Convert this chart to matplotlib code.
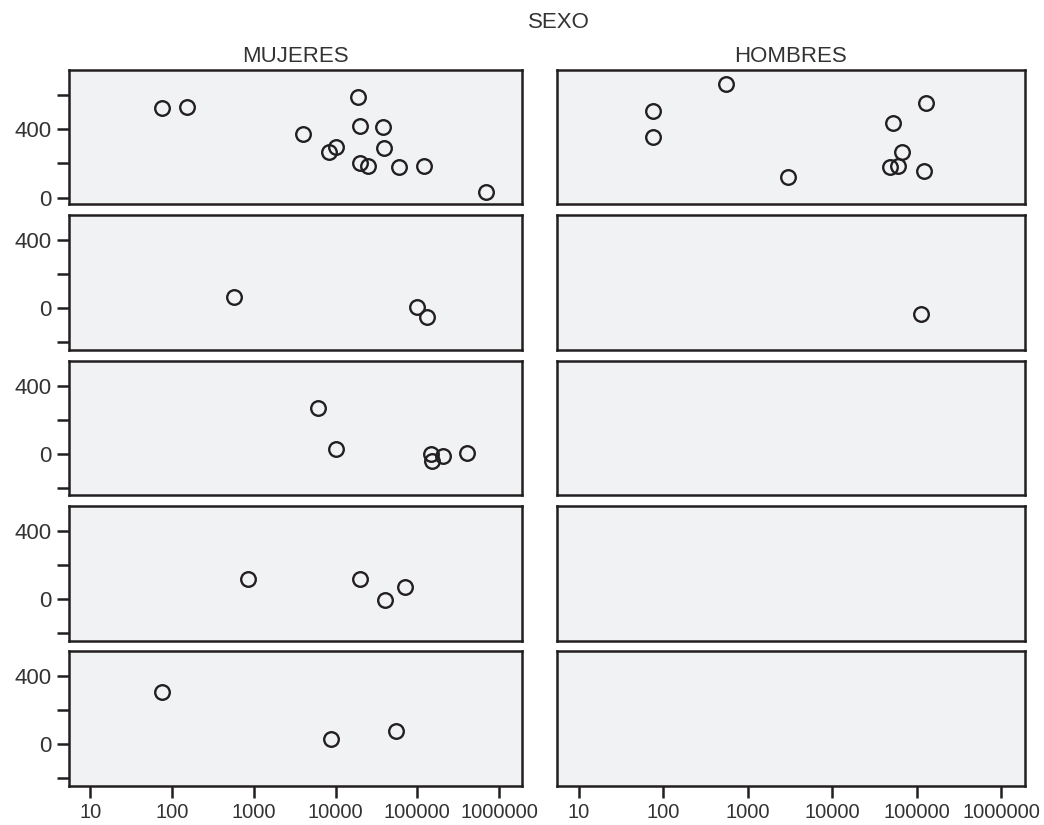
import matplotlib
matplotlib.use("Agg")
import matplotlib.pyplot as plt
import numpy as np

plt.rcParams['font.family'] = ['Liberation Sans', 'DejaVu Sans']

# values: (x, y) per panel, rows top to bottom
mujeres_x = [
    [76, 153, 18750, 3960, 19860, 38300, 10020, 8300, 39400, 19700, 25100, 60100, 119000, 693000],
    [579, 99600, 130000],
    [6140, 10000, 147600, 152000, 205000, 410000],
    [844, 19860, 40000, 69800],
    [76, 8800, 54700],
]
mujeres_y = [
    [523, 532, 591, 372, 421, 412, 298, 265, 289, 201, 187, 181, 187, 33],
    [68, 6, -51],
    [268, 27, -4, -43, -12, 6],
    [117, 117, -6, 72],
    [309, 29, 75],
]
hombres_x = [
    [546, 74.5, 74.5, 3010, 127000, 52100, 66600, 48500, 59700, 121000],
    [111000],
    [], [], [],
]
hombres_y = [
    [665, 507, 353, 123, 556, 439, 265, 178, 185, 158],
    [-33],
    [], [], [],
]
col_labels = ['MUJERES', 'HOMBRES']
x_ticks = [10, 100, 1000, 10000, 100000, 1000000]
x_tick_labels = ['10', '100', '1000', '10000', '100000', '1000000']

W, H = 1044, 825
fig = plt.figure(figsize=(W / 100, H / 100), dpi=100)

col_px = [(69, 522), (557, 1025)]
row_px = [(70, 204), (215, 350), (361, 495), (506, 641), (651, 786)]
ylims = [(-37, 747), (-244, 546), (-244, 546), (-244, 546), (-244, 546)]
edge = '#231f20'
txt = '#333333'

data = [(mujeres_x, mujeres_y), (hombres_x, hombres_y)]

for c, (x0, x1) in enumerate(col_px):
    xs, ys = data[c]
    for r, (y0, y1) in enumerate(row_px):
        ax = fig.add_axes([x0 / W, 1 - y1 / H, (x1 - x0) / W, (y1 - y0) / H])
        ax.set_facecolor('#f1f2f4')
        ax.set_xscale('log')
        ax.set_xlim(10 ** 0.74, 10 ** 6.28)
        ax.set_ylim(*ylims[r])
        if xs[r]:
            ax.plot(xs[r], ys[r], 'o', ms=10.5, mfc='none', mec=edge, mew=1.7)
        for s in ax.spines.values():
            s.set_color(edge)
            s.set_linewidth(1.8)
        ax.minorticks_off()
        ax.tick_params(length=8.5, width=1.8, color=edge, labelcolor=txt, pad=4)
        ax.tick_params(axis='y', labelsize=16)
        ax.tick_params(axis='x', labelsize=14.5)
        if c == 0:
            ax.set_yticks([-200, 0, 200, 400, 600])
            ax.set_yticklabels(['', '0', '', '400', ''])
            ax.set_ylim(*ylims[r])
        else:
            ax.set_yticks([])
        if r == 4:
            ax.set_xticks(x_ticks)
            ax.set_xticklabels(x_tick_labels)
        else:
            ax.set_xticks([])
        if r == 0:
            ax.text(0.5, 1.025, col_labels[c], transform=ax.transAxes,
                    ha='center', va='bottom', fontsize=16, color=txt)

fig.text(559 / W, 1 - 22 / H, 'SEXO', ha='center', va='center', fontsize=16, color=txt)

fig.savefig('out.png', dpi=100)
